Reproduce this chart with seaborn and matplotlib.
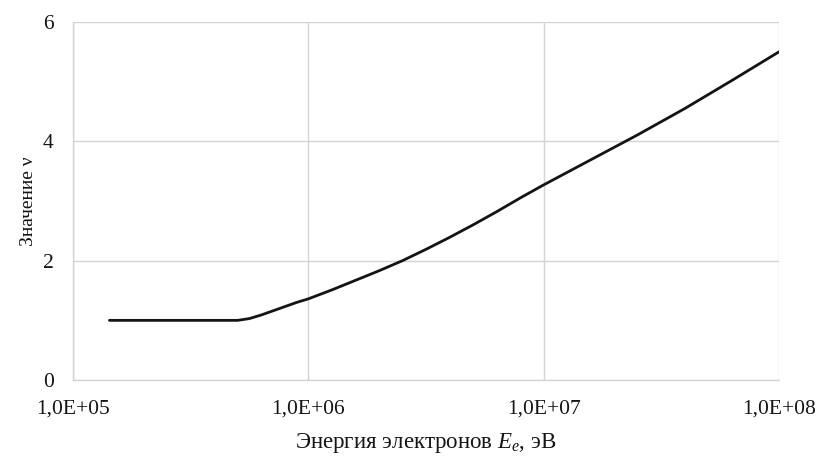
import numpy as np
import pandas as pd
import matplotlib
matplotlib.use("Agg")
import matplotlib.pyplot as plt
import seaborn as sns

# Data (log10 of electron energy, value nu)
log_energy = [5.155, 5.30, 5.50, 5.70, 5.75, 5.80, 5.85, 5.90, 5.95, 6.00, 6.10, 6.20, 6.30, 6.40,
              6.50, 6.60, 6.70, 6.80, 6.90, 7.00, 7.20, 7.40, 7.60, 7.80, 8.00]
nu_values  = [1.00, 1.00, 1.00, 1.00, 1.03, 1.09, 1.16, 1.23, 1.30, 1.36, 1.51, 1.67, 1.83, 2.00,
              2.19, 2.39, 2.60, 2.82, 3.05, 3.27, 3.69, 4.11, 4.55, 5.02, 5.50]
x_ticks = [1e5, 1e6, 1e7, 1e8]
x_tick_labels = ["1,0E+05", "1,0E+06", "1,0E+07", "1,0E+08"]
y_ticks = [0, 2, 4, 6]

df = pd.DataFrame({"E": np.power(10.0, log_energy), "nu": nu_values})

sns.set_theme(style="white")
plt.rcParams["font.family"] = ["Liberation Serif", "DejaVu Serif"]
plt.rcParams["mathtext.fontset"] = "custom"
plt.rcParams["mathtext.it"] = "Liberation Serif:italic"
plt.rcParams["mathtext.rm"] = "Liberation Serif"

fig = plt.figure(figsize=(8.21, 4.66), dpi=100)
ax = fig.add_axes([0.0889, 0.1845, 0.8599, 0.7683])

sns.lineplot(data=df, x="E", y="nu", ax=ax, color="#141414", linewidth=2.0)
ax.set_xscale("log")
ax.set_xlim(1e5, 1e8)
ax.set_ylim(0, 6)
ax.set_xticks(x_ticks)
ax.set_xticklabels(x_tick_labels)
ax.minorticks_off()
ax.set_yticks(y_ticks)

grid_c = "#d4d4d4"
ax.grid(True, color=grid_c, linewidth=1.0)
ax.set_axisbelow(True)
for s in ["top", "right"]:
    ax.spines[s].set_visible(False)
for s in ["left", "bottom"]:
    ax.spines[s].set_color(grid_c)
    ax.spines[s].set_linewidth(1.0)
ax.tick_params(axis="both", which="major", direction="out", length=6, width=1.0,
               color=grid_c, labelsize=15.5, labelcolor="#151515", pad=8)

ax.set_xlabel("Энергия электронов $E_e$, эВ", fontsize=16.5, color="#151515", labelpad=9)
ax.set_ylabel("Значение ν", fontsize=14, color="#151515", labelpad=4)

fig.savefig("out.png", dpi=100)
